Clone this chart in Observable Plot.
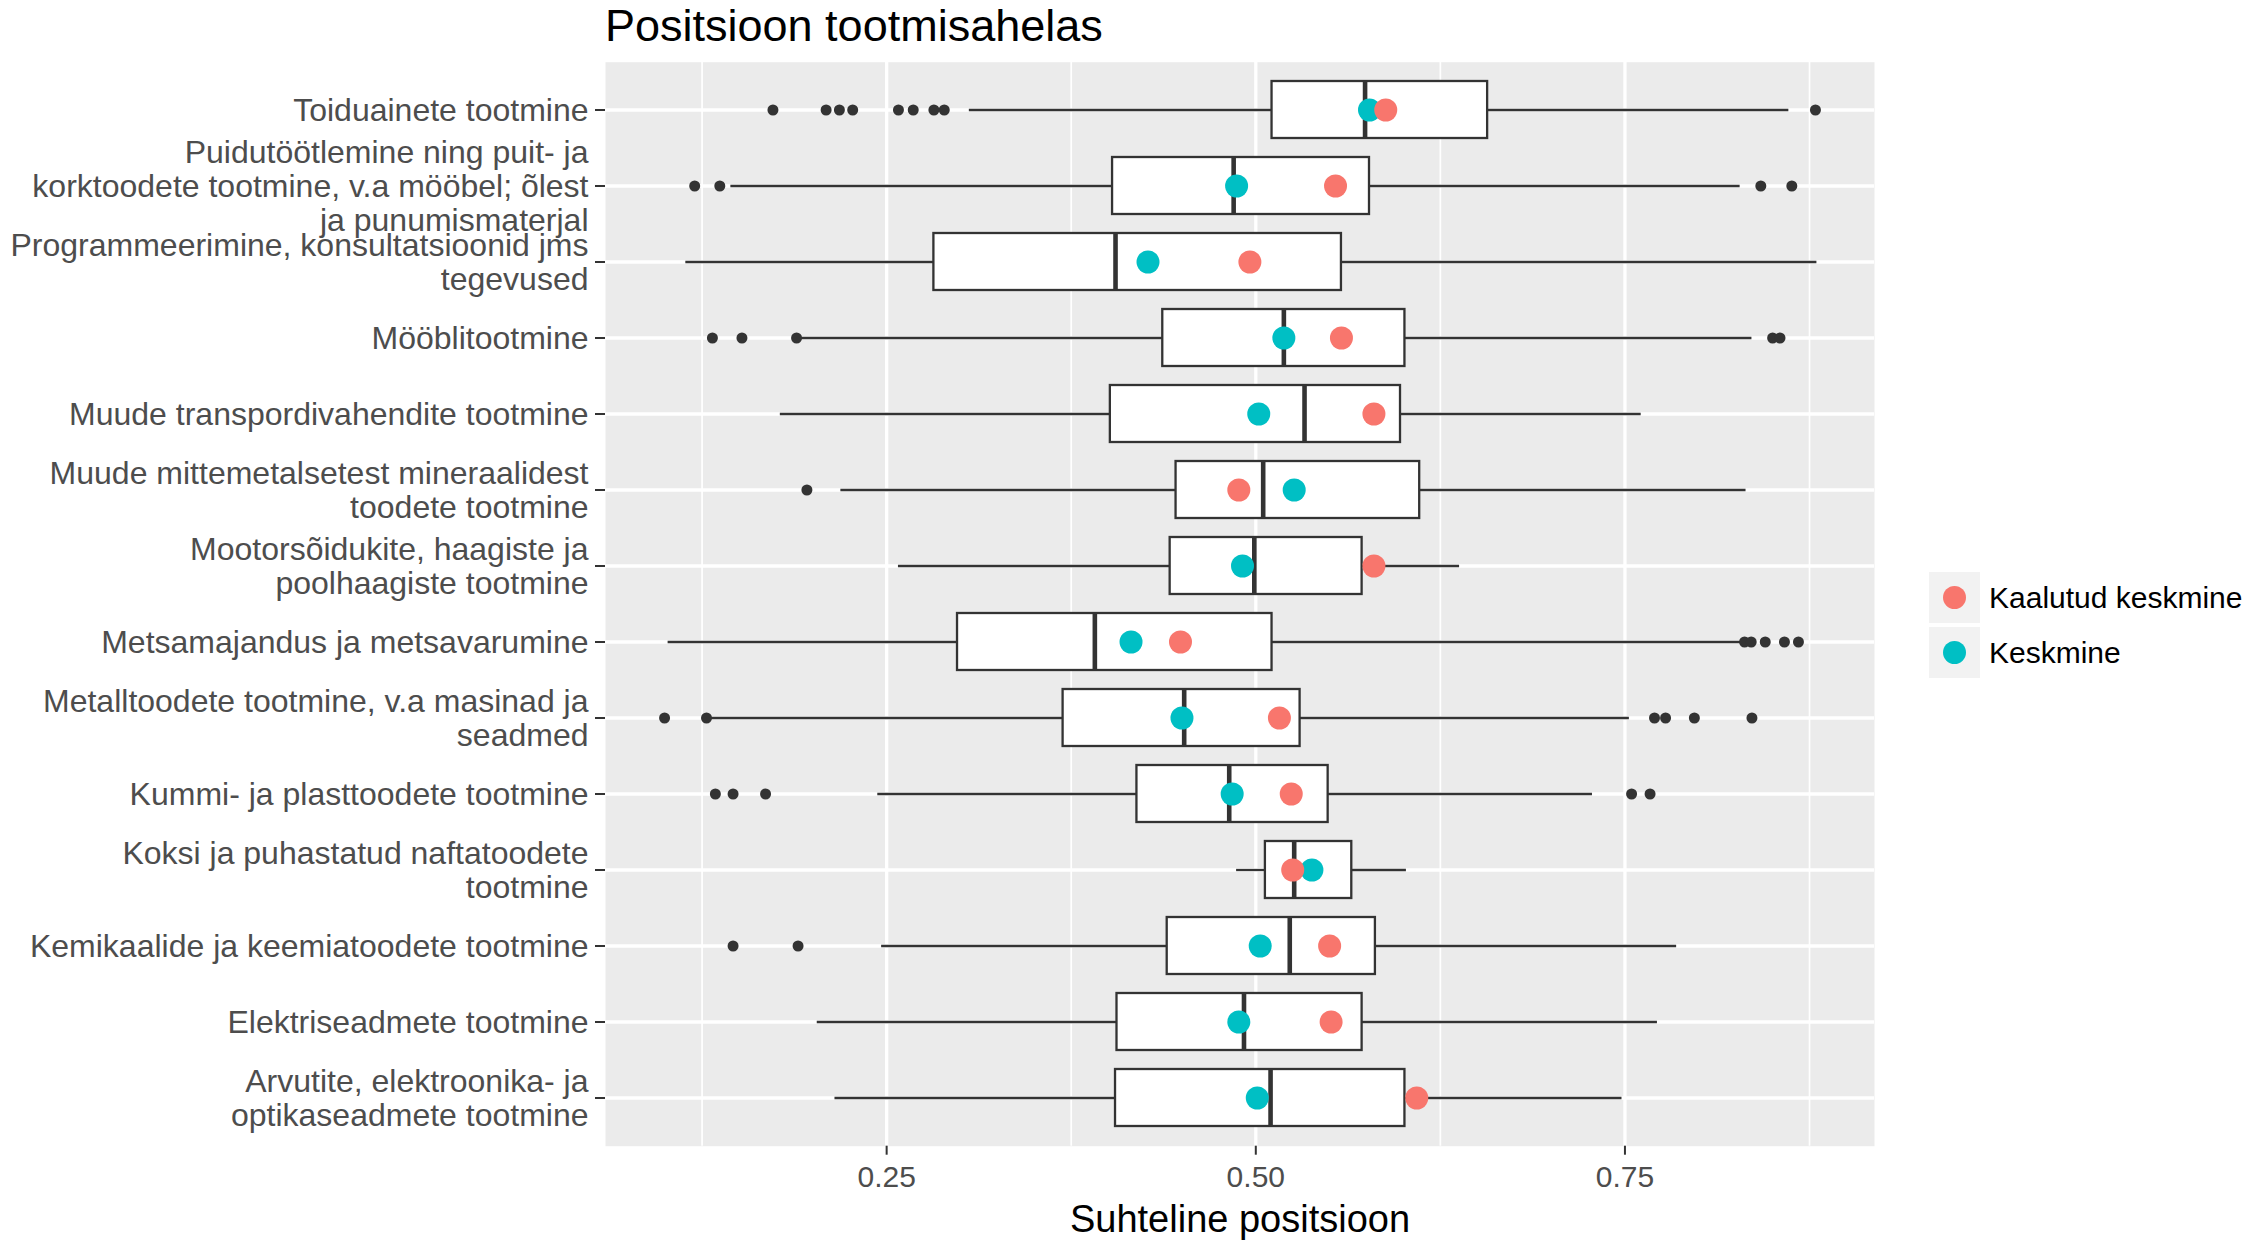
<!DOCTYPE html>
<html>
<head>
<meta charset="utf-8">
<script src="https://cdn.jsdelivr.net/npm/d3@7"></script>
<script src="https://cdn.jsdelivr.net/npm/@observablehq/plot@0.6"></script>
<style>
  body { margin: 0; background: #ffffff; }
  #wrap { position: relative; width: 2267px; height: 1241px; font-family: "Liberation Sans", Arial, sans-serif; }
  #chart { position: absolute; left: 0; top: 0; }
  #title { position: absolute; left: 605px; top: 3px; font-size: 45px; line-height: 45px; color: #000; white-space: nowrap; }
  #legend { position: absolute; left: 1929px; top: 572px; }
  .item { position: relative; height: 51px; margin-bottom: 4px; }
  .key { position: absolute; left: 0; top: 0; width: 51px; height: 51px; background: #F2F2F2; }
  .key span { position: absolute; left: 14px; top: 14px; width: 23px; height: 23px; border-radius: 50%; }
  .lab { position: absolute; left: 60px; top: 0; height: 51px; line-height: 51px; font-size: 30px; color: #000; white-space: nowrap; }
</style>
</head>
<body>
<div id="wrap">
  <div id="chart"></div>
  <div id="title">Positsioon tootmisahelas</div>
  <div id="legend"></div>
</div>
<script>
// ---- data (top to bottom) ----
const categories = [
  "Toiduainete tootmine",
  "Puidutöötlemine ning puit- ja\nkorktoodete tootmine, v.a mööbel; õlest\nja punumismaterjal",
  "Programmeerimine, konsultatsioonid jms\ntegevused",
  "Mööblitootmine",
  "Muude transpordivahendite tootmine",
  "Muude mittemetalsetest mineraalidest\ntoodete tootmine",
  "Mootorsõidukite, haagiste ja\npoolhaagiste tootmine",
  "Metsamajandus ja metsavarumine",
  "Metalltoodete tootmine, v.a masinad ja\nseadmed",
  "Kummi- ja plasttoodete tootmine",
  "Koksi ja puhastatud naftatoodete\ntootmine",
  "Kemikaalide ja keemiatoodete tootmine",
  "Elektriseadmete tootmine",
  "Arvutite, elektroonika- ja\noptikaseadmete tootmine"
];
const whiskerLow  = [0.306, 0.1445, 0.114, 0.192, 0.178, 0.219, 0.258, 0.102, 0.129, 0.244, 0.487, 0.2466, 0.203, 0.215];
const q1          = [0.511, 0.403, 0.282, 0.437, 0.4015, 0.446, 0.442, 0.298, 0.3695, 0.4195, 0.5065, 0.440, 0.406, 0.405];
const median      = [0.574, 0.485, 0.405, 0.519, 0.533, 0.505, 0.499, 0.391, 0.4515, 0.482, 0.526, 0.523, 0.492, 0.510];
const q3          = [0.657, 0.577, 0.558, 0.601, 0.598, 0.611, 0.572, 0.511, 0.530, 0.549, 0.565, 0.581, 0.572, 0.601];
const whiskerHigh = [0.861, 0.828, 0.880, 0.836, 0.761, 0.832, 0.638, 0.829, 0.753, 0.728, 0.602, 0.785, 0.772, 0.748];
const kaalutudKeskmine = [0.588, 0.554, 0.496, 0.558, 0.580, 0.4885, 0.580, 0.449, 0.516, 0.524, 0.525, 0.550, 0.551, 0.609];
const keskmine         = [0.577, 0.487, 0.427, 0.519, 0.502, 0.526, 0.491, 0.4155, 0.450, 0.484, 0.538, 0.503, 0.4885, 0.501];
const outliers = [
  [0.173, 0.209, 0.218, 0.227, 0.258, 0.268, 0.282, 0.289, 0.879],
  [0.120, 0.137, 0.842, 0.863],
  [],
  [0.132, 0.152, 0.189, 0.850, 0.855],
  [],
  [0.196],
  [],
  [0.831, 0.8355, 0.845, 0.858, 0.8675],
  [0.0996, 0.128, 0.770, 0.7775, 0.797, 0.836],
  [0.134, 0.146, 0.168, 0.7545, 0.767],
  [],
  [0.146, 0.190],
  [],
  []
];
const seriesNames = ["Kaalutud keskmine", "Keskmine"];
const seriesColors = ["#F8766D", "#00BFC4"];
const xTicks = [0.25, 0.50, 0.75];
const xMinorTicks = [0.125, 0.375, 0.625, 0.875];
const xLabel = "Suhteline positsioon";

// ---- derived tables ----
const boxes = categories.map((c, i) => ({cat: c, lo: whiskerLow[i], q1: q1[i], med: median[i], q3: q3[i], hi: whiskerHigh[i]}));
const outRows = categories.flatMap((c, i) => outliers[i].map(v => ({cat: c, v})));
const meanRows = categories.flatMap((c, i) => [
  {cat: c, v: keskmine[i], s: seriesNames[1]},
  {cat: c, v: kaalutudKeskmine[i], s: seriesNames[0]}
]);

const W = 2267, H = 1241;
const chart = Plot.plot({
  width: W,
  height: H,
  marginLeft: 605,
  marginRight: 393,
  marginTop: 61.7,
  marginBottom: 95.3,
  style: {fontFamily: "'Liberation Sans', Arial, sans-serif", background: "transparent"},
  x: {domain: [0.0596, 0.919], axis: null},
  y: {type: "band", domain: categories, paddingInner: 0.25, paddingOuter: 0.225, axis: null},
  color: {domain: seriesNames, range: seriesColors},
  marks: [
    Plot.frame({fill: "#EBEBEB", stroke: null}),
    Plot.ruleX(xMinorTicks, {stroke: "#FFFFFF", strokeWidth: 1.7}),
    Plot.ruleX(xTicks, {stroke: "#FFFFFF", strokeWidth: 3.3}),
    Plot.gridY({stroke: "#FFFFFF", strokeWidth: 3.3, strokeOpacity: 1}),
    Plot.ruleY(boxes, {y: "cat", x1: "lo", x2: "q1", stroke: "#333333", strokeWidth: 2.3}),
    Plot.ruleY(boxes, {y: "cat", x1: "q3", x2: "hi", stroke: "#333333", strokeWidth: 2.3}),
    Plot.barX(boxes, {y: "cat", x1: "q1", x2: "q3", fill: "#FFFFFF", stroke: "#333333", strokeWidth: 2.3}),
    Plot.tickX(boxes, {y: "cat", x: "med", stroke: "#333333", strokeWidth: 4.6}),
    Plot.dot(outRows, {y: "cat", x: "v", r: 5.5, fill: "#333333", stroke: null}),
    Plot.dot(meanRows, {y: "cat", x: "v", r: 11.5, fill: "s", stroke: null}),
    Plot.axisX(xTicks, {tickSize: 9, tickPadding: 10, fontSize: 30, stroke: "#333333", strokeWidth: 2, fill: "#4D4D4D", tickFormat: d3.format(".2f"), label: null}),
    Plot.axisY({tickSize: 10, tickFormat: () => "", stroke: "#333333", strokeWidth: 2, label: null}),
    Plot.text(categories, {y: d => d, text: d => d, frameAnchor: "left", dx: -17, textAnchor: "end", lineAnchor: "middle", lineHeight: 1.065, fontSize: 32, fill: "#4D4D4D"}),
    Plot.text([xLabel], {frameAnchor: "bottom", dy: 59, lineAnchor: "top", fontSize: 38, fill: "#000000"})
  ]
});
document.getElementById("chart").appendChild(chart);

// legend
const legend = document.getElementById("legend");
seriesNames.forEach((name, i) => {
  const item = document.createElement("div");
  item.className = "item";
  const key = document.createElement("div");
  key.className = "key";
  const dot = document.createElement("span");
  dot.style.background = seriesColors[i];
  key.appendChild(dot);
  const lab = document.createElement("div");
  lab.className = "lab";
  lab.textContent = name;
  item.appendChild(key);
  item.appendChild(lab);
  legend.appendChild(item);
});
</script>
</body>
</html>
